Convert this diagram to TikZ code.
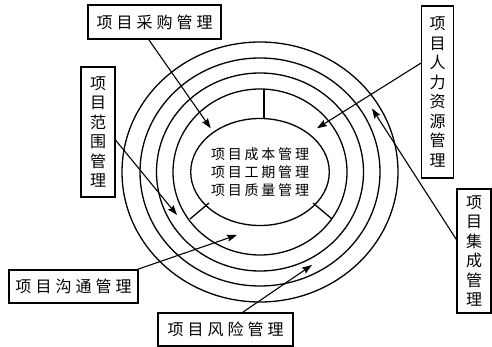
\documentclass[tikz,border=0pt]{standalone}
\usepackage{fontspec}
\newfontfamily\cjk{Noto Sans CJK SC}
\usetikzlibrary{arrows.meta,shapes.geometric}
\newcommand\hsp{\hspace{4pt}}
\newcommand\isp{\hspace{2.8pt}}
\begin{document}
\begin{tikzpicture}[x=1pt,y=-1pt,
  box/.style={draw,line width=1.3pt,inner sep=0pt,font=\cjk\fontsize{16pt}{19.5pt}\selectfont,align=center},
  ring/.style={line width=1.3pt},
  arr/.style={line width=1.1pt,-{Stealth[length=10pt,width=7pt,inset=1.5pt]}}]
\useasboundingbox (0,0) rectangle (492,347);
\fill[white] (0,0) rectangle (492,347);
% rings
\coordinate (c) at (260,172);
\draw[ring] (c) ellipse [x radius=138pt, y radius=130pt];
\draw[ring] (c) ellipse [x radius=120pt, y radius=114pt];
\draw[ring] (c) ellipse [x radius=103.5pt, y radius=99pt];
\draw[ring] (c) ellipse [x radius=87pt, y radius=83pt];
\node[ellipse,draw,line width=1.3pt,minimum width=124pt,minimum height=107pt,inner sep=0pt,
  font=\cjk\fontsize{14pt}{18pt}\selectfont,align=center] (core) at (260,172)
  {项\isp 目\isp 成\isp 本\isp 管\isp 理\\项\isp 目\isp 工\isp 期\isp 管\isp 理\\项\isp 目\isp 质\isp 量\isp 管\isp 理};
% dividers
\draw[ring] (264,118.5) -- (264,89);
\draw[ring] (209,203) -- (190,219);
\draw[ring] (313,203) -- (332,219);
% boxes
\node[box,minimum width=133pt,minimum height=34pt] (caigou) at (154.5,22) {项\hsp 目\hsp 采\hsp 购\hsp 管\hsp 理};
\node[box,minimum width=34pt,minimum height=130pt] (fanwei) at (98,132) {项\\目\\范\\围\\管\\理};
\node[box,minimum width=32pt,minimum height=172pt] (renli) at (437.5,92) {项\\目\\人\\力\\资\\源\\管\\理};
\node[box,minimum width=34pt,minimum height=124pt] (jicheng) at (474,251) {项\\目\\集\\成\\管\\理};
\node[box,minimum width=129pt,minimum height=33pt] (goutong) at (73.5,286.5) {项\hsp 目\hsp 沟\hsp 通\hsp 管\hsp 理};
\node[box,minimum width=135pt,minimum height=33pt] (fengxian) at (225.5,329.5) {项\hsp 目\hsp 风\hsp 险\hsp 管\hsp 理};
% arrow tips
\coordinate (tA) at (210.7,128.3);
\coordinate (tB) at (177,215);
\coordinate (tC) at (237,235);
\coordinate (tD) at (312,265);
\coordinate (tE) at (317,128.3);
\coordinate (tF) at (372,108.5);
\draw[arr] (caigou.-108) -- (tA);
\draw[arr] (fanwei.-25) -- (tB);
\draw[arr] (goutong.15.5) -- (tC);
\draw[arr] (fengxian.45) -- (tD);
\draw[arr] (renli.120) -- (tE);
\draw[arr] (jicheng.147) -- (tF);
\end{tikzpicture}
\end{document}
